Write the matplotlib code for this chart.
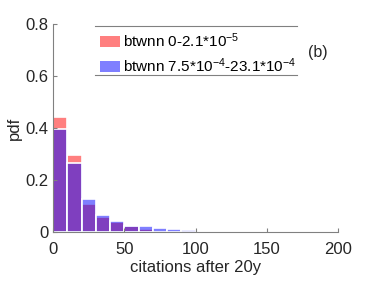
import numpy as np
import matplotlib
matplotlib.use("Agg")
import matplotlib.pyplot as plt
from matplotlib.lines import Line2D

# bin edges (width 10) and pdf values
bin_edges = np.arange(0, 210, 10)
pdf_low = [0.442, 0.296, 0.108, 0.058, 0.040, 0.023, 0.013, 0.005, 0.006, 0.004,
           0.002, 0.0, 0.002, 0.0, 0.0, 0.0, 0.0, 0.0, 0.0, 0.0]
pdf_high = [0.396, 0.265, 0.127, 0.065, 0.042, 0.023, 0.024, 0.017, 0.012, 0.008,
            0.001, 0.0, 0.0, 0.001, 0.0, 0.0, 0.0, 0.002, 0.0, 0.0]
labels = ['btwnn 0-2.1*10$^{-5}$', 'btwnn 7.5*10$^{-4}$-23.1*10$^{-4}$']

plt.rcParams['font.family'] = ['Liberation Sans', 'DejaVu Sans']
plt.rcParams['mathtext.fontset'] = 'custom'
plt.rcParams['mathtext.rm'] = 'Liberation Sans'
plt.rcParams['mathtext.it'] = 'Liberation Sans'

fig = plt.figure(figsize=(3.74, 2.81), dpi=100)
ax = fig.add_axes([0.142, 0.174, 0.762, 0.741])

centers = bin_edges[:-1] + 5
ax.bar(centers, pdf_low, width=10, color=(1, 0, 0, 0.5), edgecolor='white', linewidth=1.2, label=labels[0])
ax.bar(centers, pdf_high, width=10, color=(0, 0, 1, 0.5), edgecolor='white', linewidth=1.2, label=labels[1])

ax.set_xlim(0, 200)
ax.set_ylim(0, 0.8)
ax.set_xticks([0, 50, 100, 150, 200])
ax.set_yticks([0, 0.2, 0.4, 0.6, 0.8])
ax.set_yticklabels(['0', '0.2', '0.4', '0.6', '0.8'])
for s in ['top', 'right']:
    ax.spines[s].set_visible(False)
for s in ['left', 'bottom']:
    ax.spines[s].set_color('#808080')
    ax.spines[s].set_linewidth(0.8)
ax.tick_params(direction='in', length=3, color='#808080', labelsize=12, labelcolor='#262626')
ax.tick_params(axis='x', pad=7)
ax.set_xlabel('citations after 20y', fontsize=12, color='#262626', labelpad=2)
ax.set_ylabel('pdf', fontsize=12, color='#262626', labelpad=2)

leg = ax.legend(loc='upper left', bbox_to_anchor=(0.147, 0.99), frameon=False, fontsize=11,
                handlelength=1.3, handleheight=0.72, handletextpad=0.15, labelspacing=0.4,
                borderpad=0.35, borderaxespad=0)
for h in leg.legend_handles:
    h.set_edgecolor('none')
ax.text(0.895, 0.84, '(b)', transform=ax.transAxes, fontsize=11.5, color='#262626')

fig.canvas.draw()
bb = leg.get_window_extent().transformed(fig.transFigure.inverted())
px = 1.0 / 281
for yy in (bb.y0 + 5 * px, bb.y1):
    fig.add_artist(Line2D([bb.x0, bb.x1 - 0.012], [yy, yy], color='#808080', linewidth=0.8,
                          transform=fig.transFigure))

fig.savefig('out.png', dpi=100)
